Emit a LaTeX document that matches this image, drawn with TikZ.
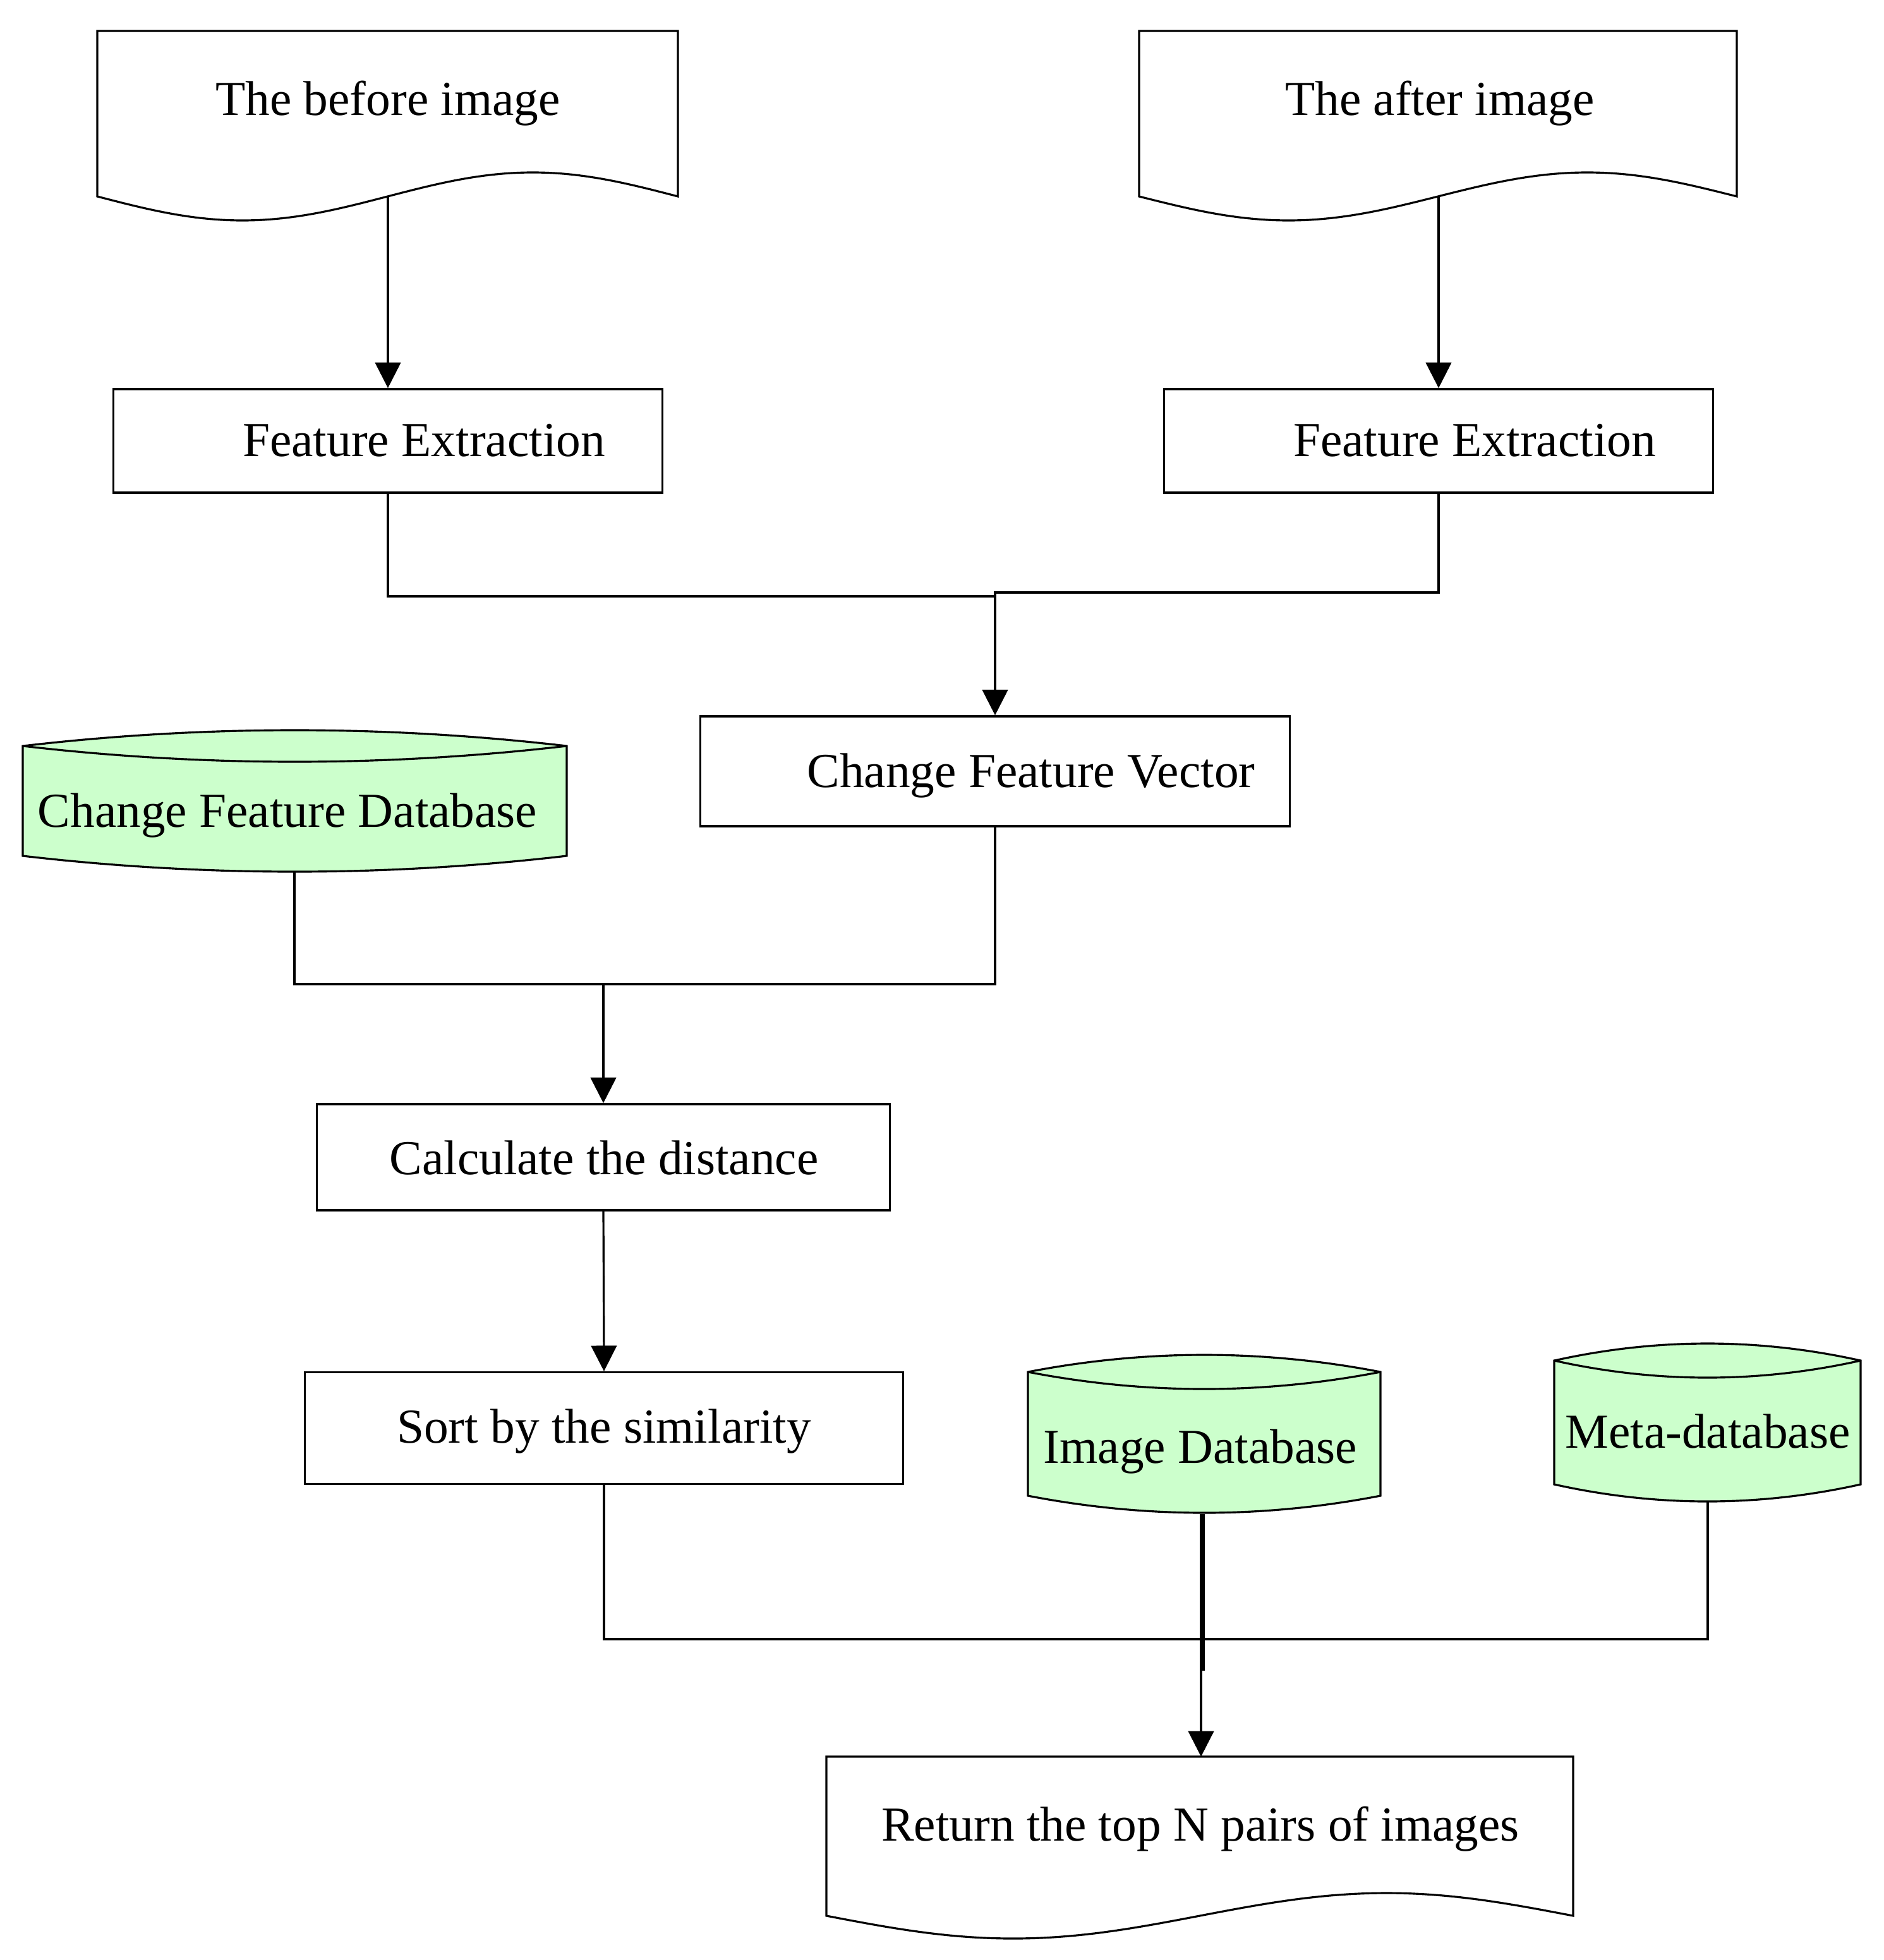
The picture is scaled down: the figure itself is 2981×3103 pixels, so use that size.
\documentclass[tikz,border=0pt]{standalone}
\usepackage{fontspec}
\setmainfont{Liberation Serif}
\usetikzlibrary{arrows.meta}
\definecolor{dbgreen}{HTML}{CCFFCC}
\tikzset{
  ln/.style={line width=0.9pt, line join=miter},
  arr/.style={ln, -{Triangle[width=11.5pt,length=11.5pt]}},
  stepbox/.style={draw, line width=0.9pt, inner sep=0pt},
  lbl/.style={font=\fontsize{22}{26}\selectfont, inner sep=0pt},
}
\newcommand{\docshape}[5]{% L R top y0 a
  \draw[ln] (#1,#3) -- (#1,#4) sin ({#1+(#2-#1)/4},{#4+#5}) cos ({#1+(#2-#1)/2},#4)
    sin ({#1+3*(#2-#1)/4},{#4-#5}) cos (#2,#4) -- (#2,#3) -- cycle;}
\newcommand{\cylshape}[5]{% L R yt yb a
  \filldraw[ln, fill=dbgreen] (#1,#3) .. controls ({#1+(#2-#1)/3},{#3-4*#5/3}) and ({#2-(#2-#1)/3},{#3-4*#5/3}) .. (#2,#3)
    -- (#2,#4) .. controls ({#2-(#2-#1)/3},{#4+4*#5/3}) and ({#1+(#2-#1)/3},{#4+4*#5/3}) .. (#1,#4) -- cycle;
  \draw[ln] (#1,#3) .. controls ({#1+(#2-#1)/3},{#3+4*#5/3}) and ({#2-(#2-#1)/3},{#3+4*#5/3}) .. (#2,#3);}
\begin{document}
\begin{tikzpicture}[x=0.01cm,y=-0.01cm]
\useasboundingbox (0,0) rectangle (2981,3103);
\fill[white] (0,0) rectangle (2981,3103);

% documents
\docshape{154}{1073}{49}{311}{38}
\docshape{1803}{2749}{49}{311}{38}
\docshape{1308}{2490}{2781}{3033}{36}
\node[lbl] (t1) at (614,164) {The before image};
\node[lbl] (t2) at (2279,164) {The after image};
\node[lbl] (t3) at (1900,2896) {Return the top N pairs of images};
\coordinate (doc1b) at (614,311);
\coordinate (doc2b) at (2277,311);
\coordinate (rett) at (1901,2781);

% cylinders
\cylshape{36}{897}{1181}{1355}{25}
\cylshape{1627}{2185}{2172}{2368}{27}
\cylshape{2460}{2945}{2154}{2350}{27}
\node[lbl] (t4) at (455,1291) {Change Feature Database};
\node[lbl] (t5) at (1900,2298) {Image Database};
\node[lbl] (t6) at (2703,2266) {Meta-database};
\coordinate (cfdb) at (466,1380);
\coordinate (idbb) at (1901,2397);
\coordinate (idbb2) at (1905,2397);
\coordinate (mdbb) at (2703,2378);

% boxes
\node[stepbox, minimum width=8.69cm, minimum height=1.64cm] (fe1) at (614,698) {};
\node[stepbox, minimum width=8.69cm, minimum height=1.64cm] (fe2) at (2277,698) {};
\node[stepbox, minimum width=9.33cm, minimum height=1.74cm] (cfv) at (1575,1221) {};
\node[stepbox, minimum width=9.06cm, minimum height=1.68cm] (cd) at (955,1832) {};
\node[stepbox, minimum width=9.46cm, minimum height=1.77cm] (sort) at (956,2261) {};
\node[lbl] (t7) at (671,697) {Feature Extraction};
\node[lbl] (t8) at (2334,697) {Feature Extraction};
\node[lbl] (t9) at (1632,1228) {Change Feature Vector};
\node[lbl] (t10) at (956,1833) {Calculate the distance};
\node[lbl] (t11) at (956,2266) {Sort by the similarity};

% connectors
\draw[arr] (doc1b) -- (fe1.north);
\draw[arr] (doc2b) -- (fe2.north);
\draw[ln] (fe1.south) -- (614,944) -- (1575,944);
\draw[arr] (fe2.south) -- (2277,938) -- (1575,938) -- (cfv.north);
\draw[ln] (cfdb) -- (466,1558) -- (1575,1558) -- (cfv.south);
\coordinate (j2) at (955,1558);
\draw[arr] (j2) -- (cd.north);
\draw[arr] (cd.south) -- (sort.north);
\draw[ln] (sort.south) -- (956,2595) -- (2703,2595) -- (mdbb);
\draw[ln] (idbb2) -- (1905,2645);
\draw[arr] (idbb) -- (rett);
\end{tikzpicture}
\end{document}
